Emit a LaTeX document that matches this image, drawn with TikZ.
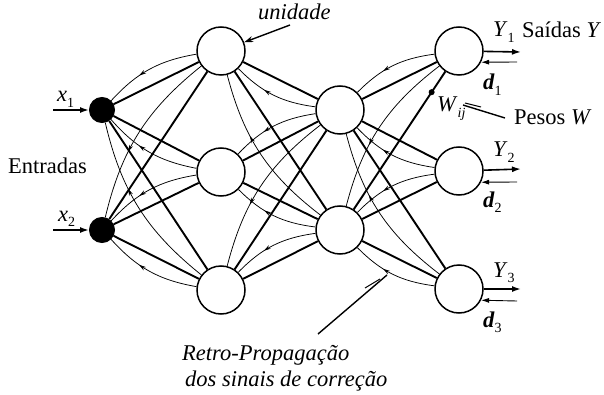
\documentclass[tikz,border=0pt]{standalone}
\usepackage{fontspec}
\setmainfont{Liberation Serif}
\usetikzlibrary{arrows.meta,decorations.markings,calc}
\newcommand{\lsub}[1]{\raisebox{-0.25em}{\fontsize{14}{14}\selectfont #1}}
\begin{document}
\begin{tikzpicture}[x=1pt,y=1pt,
  unit/.style={circle,draw,line width=1.5pt,minimum size=48pt,inner sep=0pt,fill=white},
  inp/.style={circle,fill=black,draw,line width=1pt,minimum size=25pt,inner sep=0pt},
  wire/.style={line width=1.9pt},
  back/.style={line width=0.75pt,postaction={decorate},
    decoration={markings,mark=at position 0.62 with {\arrow{Stealth[length=7pt,width=4pt]}}}},
  lbl/.style={inner sep=0pt,font=\fontsize{22.5}{26}\selectfont},
  ptr/.style={line width=1.4pt},
  outarr/.style={line width=1.6pt,-{Latex[length=9pt,width=6pt]}},
  inarr/.style={line width=0.9pt,-{Latex[length=8pt,width=5pt]}},
]
\useasboundingbox (0,0) rectangle (604,394);
% nodes
\node[inp] (x1) at (102,284) {};
\node[inp] (x2) at (102,164) {};
\node[unit] (h1) at (221,343) {};
\node[unit] (h2) at (221,222) {};
\node[unit] (h3) at (221,104) {};
\node[unit] (g1) at (340,284) {};
\node[unit] (g2) at (340,164) {};
\node[unit] (o1) at (459,343) {};
\node[unit] (o2) at (459,223) {};
\node[unit] (o3) at (459,105) {};
% connections
\foreach \a/\b/\bv in {x1/h1/-19, x1/h2/19, x1/h3/19, x2/h1/-19, x2/h2/-19, x2/h3/19,
  h1/g1/19, h1/g2/19, h2/g1/-19, h2/g2/19, h3/g1/-19, h3/g2/-19,
  g1/o1/-19, g1/o2/19, g1/o3/19, g2/o1/-19, g2/o2/-19, g2/o3/19}
{
  \draw[wire] (\a) -- (\b);
  \draw[back] (\b) to[bend left=\bv] (\a);
}
% weight dot
\node[circle,fill=black,inner sep=0pt,minimum size=6pt] (w) at ($(g2)!0.77!(o1)$) {};
% inputs
\coordinate (i1) at (53,284);
\coordinate (i2) at (53,164);
\draw[outarr] (i1) -- (x1);
\draw[outarr] (i2) -- (x2);
\node[lbl,anchor=base west] (lx1) at (57,292) {\textit{x}\lsub{1}};
\node[lbl,anchor=base west] (lx2) at (58,173) {\textit{x}\lsub{2}};
\node[lbl,anchor=base west] (ent) at (8,221) {Entradas};
% outputs
\coordinate (y1e) at (521,342);
\coordinate (y2e) at (521,225);
\coordinate (y3e) at (521,105);
\coordinate (d1s) at (517,332);
\coordinate (d2s) at (517,212);
\coordinate (d3s) at (517,93);
\draw[outarr] (o1) -- (y1e);
\draw[outarr] (o2) -- (y2e);
\draw[outarr] (o3) -- (y3e);
\draw[inarr] (d1s) -- (o1.-27);
\draw[inarr] (d2s) -- (o2.-27);
\draw[inarr] (d3s) -- (o3.-27);
\node[lbl,anchor=base west] (ly1) at (493,357) {\textit{Y}\lsub{1}};
\node[lbl,anchor=base west] (sai) at (522,356) {Saídas \textit{Y}};
\node[lbl,anchor=base west] (ld1) at (483,304) {\textbf{\textit{d}}\lsub{1}};
\node[lbl,anchor=base west] (ly2) at (493,237) {\textit{Y}\lsub{2}};
\node[lbl,anchor=base west] (ld2) at (483,187) {\textbf{\textit{d}}\lsub{2}};
\node[lbl,anchor=base west] (ly3) at (493,117) {\textit{Y}\lsub{3}};
\node[lbl,anchor=base west] (ld3) at (483,67) {\textbf{\textit{d}}\lsub{3}};
% weights label
\node[lbl,anchor=base west] (lw) at (437,282) {\textit{W}\lsub{\textit{ij}}};
\node[lbl,anchor=base west] (pes) at (514,269) {Pesos \textit{W}};
\coordinate (p0) at (505,276);
\coordinate (p1) at (463,289);
\draw[ptr] (p0) -- (p1);
\draw[line width=1pt] (465,291) -- (481,287);
% unidade
\node[lbl,anchor=base west] (uni) at (258,374) {\textit{unidade}};
\coordinate (u0) at (290,369);
\draw[ptr,-{Stealth[length=9pt,width=6pt]}] (u0) -- (h1);
% retro
\node[lbl,anchor=base west] (r1t) at (182,34) {\textit{Retro-Propagação}};
\node[lbl,anchor=base west] (r2t) at (185,8) {\textit{dos sinais de correção}};
\coordinate (r0) at (318,60);
\coordinate (r1) at (387,119);
\draw[ptr] (r0) -- (r1);
\draw[line width=1pt] (365,106) -- (380,115);
\end{tikzpicture}
\end{document}
